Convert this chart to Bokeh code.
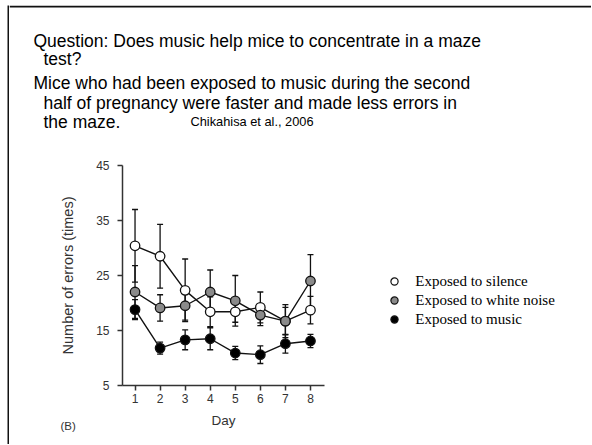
import math
from bokeh.plotting import figure
from bokeh.models import (ColumnDataSource, Whisker, TeeHead, Label, Legend, LegendItem,
                          FixedTicker, Range1d, Spacer, Span)
from bokeh.layouts import column, row
from bokeh.embed import file_html
from bokeh.resources import INLINE

# ---------------- data ----------------
days = [1, 2, 3, 4, 5, 6, 7, 8]
silence = [30.4, 28.5, 22.3, 18.4, 18.4, 19.2, 16.7, 18.7]
silence_err = [6.6, 5.8, 5.7, 2.7, 1.9, 2.8, 3.0, 2.5]
noise = [22.0, 19.1, 19.5, 22.0, 20.4, 17.8, 16.7, 24.0]
noise_err = [4.8, 2.4, 2.6, 4.0, 4.6, 1.9, 2.5, 4.8]
music = [18.8, 11.8, 13.3, 13.5, 10.9, 10.6, 12.6, 13.1]
music_err = [1.8, 1.1, 1.8, 2.0, 1.2, 1.6, 1.7, 1.2]
y_ticks = [5, 15, 25, 35, 45]

series_names = ["Exposed to silence", "Exposed to white noise", "Exposed to music"]
series_colors = ["white", "#8a8a8a", "black"]

question_lines = ["Question: Does music help mice to concentrate in a maze", "test?"]
finding_lines = ["Mice who had been exposed to music during the second",
                 "half of pregnancy were faster and made less errors in",
                 "the maze."]
citation = "Chikahisa et al., 2006"
x_title = "Day"
y_title = "Number of errors (times)"
panel_tag = "(B)"

# ---------------- layout (page pixels) ----------------
X0, Y0 = 7, 5          # slide border corner
BW = 2                 # border width
XR, YB = 591, 444      # right / bottom page edge used
CX0 = X0 + BW
TOP_END = 150
MID_END = 410
CHART_RIGHT = 330
FRAME_L, FRAME_T, FRAME_W, FRAME_H = 122, 165, 202, 220
TEXT = "#333333"
INK = "#111111"
NAN = float("nan")


def blank(x0, x1, y0, y1, fill="white"):
    f = figure(width=x1 - x0, height=y1 - y0, output_backend="svg",
               toolbar_location=None, x_range=Range1d(x0, x1), y_range=Range1d(y1, y0),
               x_axis_location=None, y_axis_location=None, min_border=0)
    f.outline_line_color = None
    f.background_fill_color = fill
    f.border_fill_color = fill
    f.xgrid.visible = False
    f.ygrid.visible = False
    return f


def label(f, x, y, t, size, color="black", font="Liberation Sans", **kw):
    f.add_layout(Label(x=x, y=y, text=t, text_font=font, text_font_size=size,
                       text_color=color, **kw))


# slide border, left side
border_v = blank(X0, CX0, Y0, YB, fill=INK)

# ---------------- top text strip (with the top border line) ----------------
top = blank(CX0, XR, Y0, TOP_END)
top.add_layout(Span(location=Y0 + BW / 2, dimension="width", line_color=INK,
                    line_width=BW))
rows_txt = [(question_lines[0], 33, 40.5), (question_lines[1], 43, 58),
            (finding_lines[0], 33, 82.5), (finding_lines[1], 43, 102),
            (finding_lines[2], 43, 121)]
for t, x, y in rows_txt:
    label(top, x, y, t, "17.5px", text_baseline="middle", text_align="left")
label(top, 190, 121, citation, "12.8px", text_baseline="middle", text_align="left")

# ---------------- chart ----------------
p = figure(width=CHART_RIGHT - CX0, height=MID_END - TOP_END, output_backend="svg",
           toolbar_location=None, x_range=(0.5, 8.56), y_range=(5, 45),
           min_border_left=FRAME_L - CX0, min_border_top=FRAME_T - TOP_END,
           min_border_right=CHART_RIGHT - FRAME_L - FRAME_W,
           min_border_bottom=MID_END - FRAME_T - FRAME_H)
p.outline_line_color = None
p.xgrid.visible = False
p.ygrid.visible = False
for ax in (p.xaxis, p.yaxis):
    ax.axis_line_color = TEXT
    ax.axis_line_width = 1.5
    ax.major_tick_line_color = TEXT
    ax.major_tick_line_width = 1.5
    ax.major_tick_out = 5
    ax.major_tick_in = 0
    ax.minor_tick_line_color = None
    ax.major_label_text_font = "Liberation Sans"
    ax.major_label_text_font_size = "12px"
    ax.major_label_text_color = TEXT
    ax.axis_label_text_font = "Liberation Sans"
    ax.axis_label_text_font_size = "14.5px"
    ax.axis_label_text_font_style = "normal"
    ax.axis_label_text_color = TEXT
p.xaxis.ticker = FixedTicker(ticks=days)
p.yaxis.ticker = FixedTicker(ticks=y_ticks)
p.xaxis.major_label_standoff = 3
p.yaxis.major_label_standoff = 8
p.yaxis.axis_label = y_title
p.yaxis.axis_label_standoff = 17

for name, vals, errs, col in zip(series_names, [silence, noise, music],
                                 [silence_err, noise_err, music_err], series_colors):
    src = ColumnDataSource(dict(
        x=days, y=vals,
        lo=[v - e for v, e in zip(vals, errs)],
        hi=[v + e for v, e in zip(vals, errs)]))
    p.add_layout(Whisker(base="x", lower="lo", upper="hi", source=src,
                         line_color=INK, line_width=1.3,
                         lower_head=TeeHead(size=6, line_color=INK, line_width=1.3),
                         upper_head=TeeHead(size=6, line_color=INK, line_width=1.3),
                         level="underlay"))
    p.line("x", "y", source=src, line_color=INK, line_width=1.4)
    p.scatter("x", "y", source=src, size=9.5, fill_color=col,
              line_color=INK, line_width=1.3)

# ---------------- right strip: legend ----------------
right = blank(CHART_RIGHT, XR, TOP_END, MID_END)
items = []
for name, col in zip(series_names, series_colors):
    # a legend-only renderer: its single point is NaN, so it draws nothing itself
    r = right.scatter(x=[NAN], y=[NAN], size=8, fill_color=col, line_color=INK,
                      line_width=1.2)
    items.append(LegendItem(label=name, renderers=[r]))
frame_bottom = FRAME_T + FRAME_H
right.add_layout(Legend(items=items, location=(385.3 - CHART_RIGHT, frame_bottom - 328),
                        glyph_width=18, glyph_height=18, label_height=18, spacing=1,
                        label_standoff=12, padding=0, margin=0,
                        border_line_color=None, background_fill_alpha=0,
                        label_text_font="Liberation Serif", label_text_font_size="15px",
                        label_text_color="black"))

# ---------------- bottom strip ----------------
bottom = blank(CX0, XR, MID_END, YB)
label(bottom, FRAME_L + FRAME_W / 2, 420, x_title, "13.5px", color=TEXT,
      text_baseline="middle", text_align="center")
label(bottom, 60, 425, panel_tag, "11.5px", color=TEXT,
      text_baseline="middle", text_align="left")

inner = column(top, row(p, right, spacing=0), bottom, spacing=0)
layout = column(Spacer(width=XR, height=Y0),
                row(Spacer(width=X0, height=YB - Y0), border_v, inner, spacing=0),
                spacing=0)
open("out.html", "w").write(file_html(layout, INLINE))
